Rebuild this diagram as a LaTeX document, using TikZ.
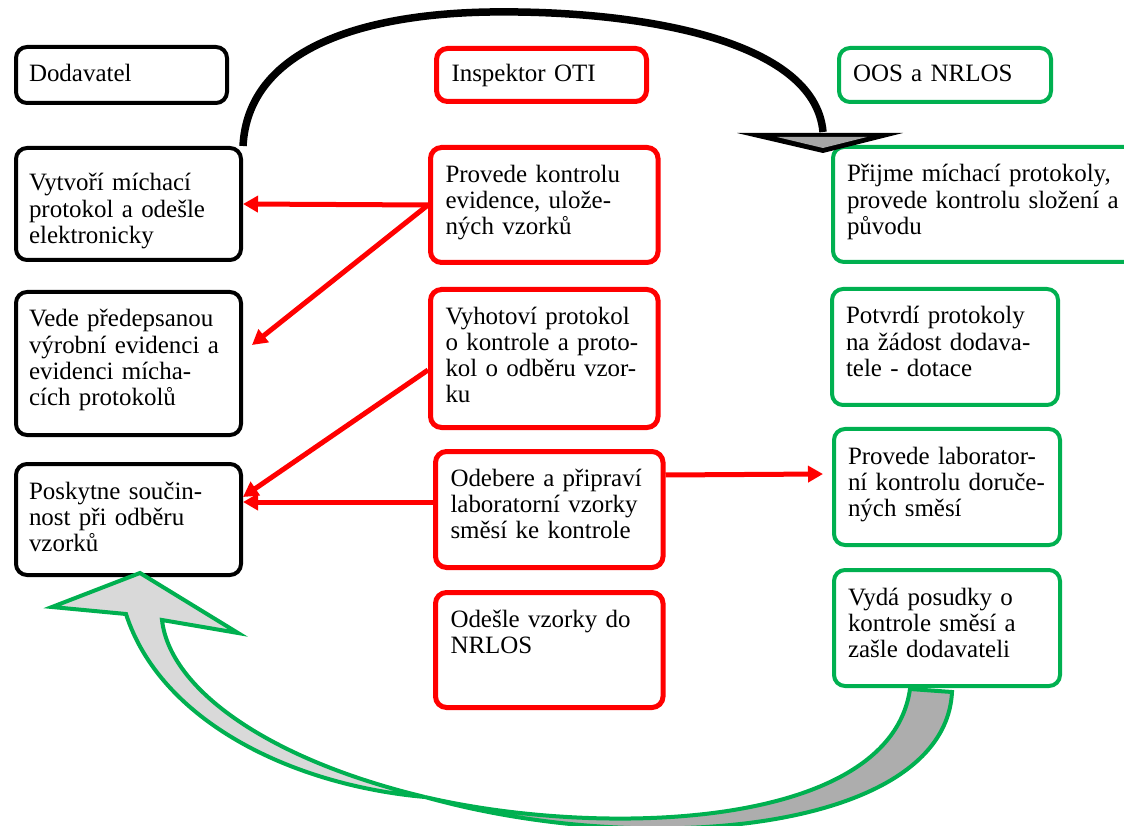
\documentclass[tikz,border=0pt]{standalone}
\usepackage{fontspec}
\setmainfont{Liberation Serif}
\usetikzlibrary{arrows.meta}

\definecolor{oosgreen}{RGB}{0,176,80}
\definecolor{bandlight}{RGB}{217,217,217}
\definecolor{banddark}{RGB}{173,173,173}
\definecolor{headgray}{RGB}{166,166,166}

\tikzset{
  cell/.style={draw, rounded corners=0.22cm, align=left, anchor=north west,
    font=\fontsize{14.2}{14.8}\selectfont, inner ysep=0.2cm, text height=0.5cm},
  supplier/.style={cell, draw=black, line width=0.08cm, inner xsep=0.26cm, text width=3.98cm},
  inspector/.style={cell, draw=red, line width=0.1cm, inner xsep=0.3cm, text width=3.95cm},
  office/.style={cell, draw=oosgreen, line width=0.08cm, inner xsep=0.28cm, text width=3.96cm},
  head/.style={anchor=center, text height=0.38cm, text depth=0.1cm},
  flow/.style={red, line width=0.1cm, -{Triangle[length=0.3cm,width=0.32cm]}},
}

\begin{document}
\begin{tikzpicture}
\useasboundingbox (0,0) rectangle (22.48,16.5);

% column heads
\node[supplier,head,text width=3.70cm,minimum height=1.12cm] (hsup) at (2.43,15.0) {Dodavatel};
\node[inspector,head,text width=3.60cm,minimum height=1.06cm] (hins) at (10.83,15.0) {Inspektor OTI};
\node[office,head,text width=3.68cm,minimum height=1.08cm] (hoos) at (18.9,15.0) {OOS a NRLOS};

% Dodavatel
\node[supplier,text height=0.66cm,text depth=1.18cm] (s1) at (0.28,13.58) {Vytvoří míchací\\protokol a odešle\\elektronicky};
\node[supplier,text depth=1.96cm] (s2) at (0.28,10.7) {Vede předepsanou\\výrobní evidenci a\\evidenci mícha-\\cích protokolů};
\node[supplier,text depth=1.32cm] (s3) at (0.28,7.26) {Poskytne součin-\\nost při odběru\\vzorků};

% Inspektor OTI
\node[inspector,text depth=1.40cm] (p1) at (8.56,13.6) {Provede kontrolu\\evidence, ulože-\\ných vzorků};
\node[inspector,text depth=1.86cm] (p2) at (8.56,10.76) {Vyhotoví protokol\\o kontrole a proto-\\kol o odběru vzor-\\ku};
\node[inspector,text depth=1.42cm] (p3) at (8.66,7.52) {Odebere a připraví\\laboratorní vzorky\\směsí ke kontrole};
\node[inspector,text depth=1.40cm] (p4) at (8.66,4.7) {Odešle vzorky do\\NRLOS};

% OOS a NRLOS
\node[office,text width=5.7cm,text depth=1.40cm] (g1) at (16.62,13.6) {Přijme míchací protokoly,\\provede kontrolu složení a\\původu};
\node[office,text depth=1.42cm] (g2) at (16.6,10.76) {Potvrdí protokoly\\na žádost dodava-\\tele - dotace};
\node[office,text depth=1.42cm] (g3) at (16.64,7.96) {Provede laborator-\\ní kontrolu doruče-\\ných směsí};
\node[office,text depth=1.42cm] (g4) at (16.64,5.14) {Vydá posudky o\\kontrole směsí a\\zašle dodavateli};

% red arrows
\draw[flow] (p1.west) -- (s1.east);
\draw[flow] (p1.west) -- ([shift={(0.18,0.37)}]s2.east);
\draw[flow] ([yshift=-0.23cm]p2.west) -- ([yshift=0.45cm]s3.east);
\draw[flow] ([yshift=0.15cm]p3.west) -- ([yshift=0.35cm]s3.east);
\draw[flow] ([yshift=0.69cm]p3.east) -- ([shift={(-0.18,0.26)}]g3.west);

% black arc to the OOS column
\coordinate (T) at (16.46,13.86);
\draw[line width=0.15cm] (s1.north east) .. controls (4.96,15.5) and (7.2,16.22) .. (9.8,16.26)
  .. controls (12.8,16.3) and (16.3,15.7) .. (T);
\fill (14.74,13.84) -- (18.06,13.84) -- (16.46,13.44) -- cycle;
\fill[headgray] (15.54,13.76) -- (17.34,13.76) -- (16.46,13.54) -- cycle;

% green band back to Dodavatel
\filldraw[fill=banddark,draw=oosgreen,line width=0.08cm] (8.5,0.56) .. controls (12.0,-0.26) and (17.8,-0.1) .. (18.2,2.72)
  -- (19.04,2.66) .. controls (18.9,-0.1) and (13.0,-0.7) .. (8.5,0.56) -- cycle;
\filldraw[fill=bandlight,draw=oosgreen,line width=0.08cm] (2.8,5.04) -- (4.76,3.84) -- (3.24,4.1)
  .. controls (3.4,2.7) and (5.4,1.3) .. (8.5,0.56)
  .. controls (5.8,0.8) and (3.2,2.1) .. (2.52,4.22) -- (1.04,4.36) -- cycle;

\end{tikzpicture}
\end{document}
